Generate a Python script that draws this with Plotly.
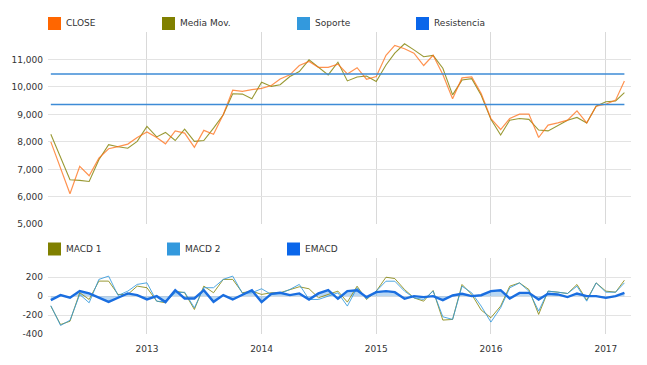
import plotly.graph_objects as go

# ---- data ----
dates = [
    "2012-03-01", "2012-04-01", "2012-05-01", "2012-06-01", "2012-07-01", "2012-08-01",
    "2012-09-01", "2012-10-01", "2012-11-01", "2012-12-01",
    "2013-01-01", "2013-02-01", "2013-03-01", "2013-04-01", "2013-05-01", "2013-06-01",
    "2013-07-01", "2013-08-01", "2013-09-01", "2013-10-01", "2013-11-01", "2013-12-01",
    "2014-01-01", "2014-02-01", "2014-03-01", "2014-04-01", "2014-05-01", "2014-06-01",
    "2014-07-01", "2014-08-01", "2014-09-01", "2014-10-01", "2014-11-01", "2014-12-01",
    "2015-01-01", "2015-02-01", "2015-03-01", "2015-04-01", "2015-05-01", "2015-06-01",
    "2015-07-01", "2015-08-01", "2015-09-01", "2015-10-01", "2015-11-01", "2015-12-01",
    "2016-01-01", "2016-02-01", "2016-03-01", "2016-04-01", "2016-05-01", "2016-06-01",
    "2016-07-01", "2016-08-01", "2016-09-01", "2016-10-01", "2016-11-01", "2016-12-01",
    "2017-01-01", "2017-02-01", "2017-03-01",
]

close = [
    8000, 7050, 6110, 7110, 6770, 7410, 7750, 7830, 7920, 8160,
    8360, 8160, 7930, 8400, 8320, 7800, 8420, 8280, 9000, 9880, 9840, 9900,
    9950, 10050, 10290, 10440, 10780, 10930, 10710, 10710, 10830, 10470, 10700, 10280,
    10380, 11150, 11510, 11390, 11230, 10780, 11150, 10450, 9570, 10330, 10370, 9760,
    8850, 8450, 8850, 9010, 9010, 8160, 8610, 8690, 8790, 9130, 8690, 9300,
    9370, 9520, 10220,
]

media_mov = [
    8280, 7450, 6620, 6600, 6560, 7350, 7900, 7820, 7770, 8020,
    8560, 8180, 8345, 8050, 8465, 8020, 8050, 8500, 8985, 9750, 9740, 9570,
    10170, 10020, 10080, 10380, 10560, 10985, 10710, 10440, 10900, 10220, 10360, 10400,
    10200, 10800, 11230, 11570, 11350, 11100, 11150, 10680, 9710, 10250, 10300, 9700,
    8820, 8250, 8790, 8850, 8820, 8430, 8400, 8610, 8790, 8890, 8690, 9300,
    9460, 9490, 9790,
]

soporte = 9360
resistencia = 10470

macd1 = [
    -106, -300, -265, 36, -35, 159, 159, 18, 18, 106,
    89, -53, -70, 53, 36, -141, 106, 36, 177, 177, 36, 53,
    18, 36, 36, 71, 99, 78, -17, 18, 53, -63, 105, -35,
    53, 200, 186, 70, -18, -53, 60, -253, -246, 123, 18, -147,
    -228, -105, 105, 140, 70, -193, 53, 42, 28, 123, -42, 140,
    53, 42, 168,
]

macd2 = [
    -100, -310, -255, 18, -70, 177, 212, 7, 53, 124,
    141, -53, -60, 36, 42, -123, 89, 89, 177, 212, 29, 36,
    78, 18, 29, 71, 124, -35, -35, 0, 35, -105, 88, -28,
    53, 158, 158, 53, -18, -35, 53, -218, -246, 105, 35, -105,
    -274, -123, 88, 140, 53, -158, 53, 42, 28, 105, -53, 140,
    42, 42, 140,
]

emacd = [
    -42, 11, -17, 53, 29, -17, -60, -17, 29, 11,
    -35, 0, -63, 63, -25, -25, 63, -60, 11, -35, 11, 63,
    -63, 25, 36, 11, 29, -35, 29, 63, -28, 53, 63, -10,
    42, 53, 42, -28, 0, -10, 0, -42, 7, 25, 0, 10,
    53, 63, -25, 35, 35, -35, 25, 18, -10, 28, 0, 0,
    -18, 0, 35,
]

top_ticks = [5000, 6000, 7000, 8000, 9000, 10000, 11000, 12000]
top_ticktext = ["5,000", "6,000", "7,000", "8,000", "9,000", "10,000", "11,000", ""]
bot_ticks = [-400, -200, 0, 200, 400]
bot_ticktext = ["-400", "-200", "0", "200", ""]

top_legend = [("CLOSE", "#ff6600"), ("Media Mov.", "#808000"),
              ("Soporte", "#3399dd"), ("Resistencia", "#0a66ea")]
bot_legend = [("MACD 1", "#808000"), ("MACD 2", "#3399dd"), ("EMACD", "#0a66ea")]

# ---- figure ----
W, H = 647, 365
ML, MR, MT, MB = 48, 16, 32, 31
FONT = "DejaVu Sans"
TXT = "#333333"
GRID = "#e3e3e3"

fig = go.Figure()

fig.add_trace(go.Scatter(x=dates, y=media_mov, mode="lines", name="Media Mov.",
                         line=dict(color="rgba(128,128,0,0.8)", width=1.1),
                         xaxis="x", yaxis="y"))
fig.add_trace(go.Scatter(x=dates, y=close, mode="lines", name="CLOSE",
                         line=dict(color="rgba(255,110,20,0.75)", width=1.2),
                         xaxis="x", yaxis="y"))
fig.add_trace(go.Scatter(x=[dates[0], dates[-1]], y=[soporte, soporte], mode="lines",
                         name="Soporte", line=dict(color="#3d8bd6", width=1.4),
                         xaxis="x", yaxis="y"))
fig.add_trace(go.Scatter(x=[dates[0], dates[-1]], y=[resistencia, resistencia], mode="lines",
                         name="Resistencia", line=dict(color="#3d8bd6", width=1.4),
                         xaxis="x", yaxis="y"))

fig.add_trace(go.Scatter(x=dates, y=emacd, mode="lines", name="EMACD fill",
                         fill="tozeroy", fillcolor="rgba(51,140,221,0.35)",
                         line=dict(color="rgba(0,0,0,0)", width=0),
                         xaxis="x2", yaxis="y2"))
fig.add_trace(go.Scatter(x=dates, y=macd1, mode="lines", name="MACD 1",
                         line=dict(color="rgba(128,128,0,0.8)", width=1),
                         xaxis="x2", yaxis="y2"))
fig.add_trace(go.Scatter(x=dates, y=macd2, mode="lines", name="MACD 2",
                         line=dict(color="rgba(51,153,221,0.85)", width=1),
                         xaxis="x2", yaxis="y2"))
fig.add_trace(go.Scatter(x=dates, y=emacd, mode="lines", name="EMACD",
                         line=dict(color="#1a6ee0", width=2.4),
                         xaxis="x2", yaxis="y2"))

plot_h = H - MT - MB
top_dom = [(H - MB - 224.3) / plot_h, 1.0]
bot_dom = [0.0, (H - MB - 258.3) / plot_h]
xr = ["2012-02-21", "2017-03-22"]

xcommon = dict(type="date", range=xr, dtick="M12", tick0="2013-01-01",
               showgrid=True, gridcolor="#d9d9d9", gridwidth=1, zeroline=False,
               showline=False, ticks="", tickformat="%Y",
               tickfont=dict(family=FONT, size=9, color=TXT))

fig.update_layout(
    width=W, height=H,
    margin=dict(l=ML, r=MR, t=MT, b=MB, autoexpand=False),
    paper_bgcolor="white", plot_bgcolor="white",
    showlegend=False,
    hovermode=False,
    font=dict(family=FONT, size=9, color=TXT),
    xaxis=dict(**xcommon, anchor="y", showticklabels=False, matches="x2"),
    xaxis2=dict(**xcommon, anchor="y2", showticklabels=True, ticklabelstandoff=8),
    yaxis=dict(domain=top_dom, range=[5000, 12000], tickvals=top_ticks,
               ticktext=top_ticktext, showgrid=True, gridcolor=GRID, zeroline=False,
               ticks="", showline=False, ticklabelstandoff=4,
               tickfont=dict(family=FONT, size=9, color=TXT)),
    yaxis2=dict(domain=bot_dom, range=[-400, 400], tickvals=bot_ticks,
                ticktext=bot_ticktext, showgrid=True, gridcolor=GRID, zeroline=False,
                ticks="", showline=False, ticklabelstandoff=4,
                tickfont=dict(family=FONT, size=9, color=TXT)),
)

# ---- custom legends (square swatch + label) ----
def px_to_paper_x(px):
    return (px - ML) / (W - ML - MR)

def px_to_paper_y(py):
    return (H - MB - py) / plot_h

shapes = []
annotations = []

def add_legend(items, xs_sq, y_center):
    for (label, color), xs in zip(items, xs_sq):
        shapes.append(dict(type="rect", xref="paper", yref="paper",
                           x0=px_to_paper_x(xs), x1=px_to_paper_x(xs + 13),
                           y0=px_to_paper_y(y_center + 6.5), y1=px_to_paper_y(y_center - 6.5),
                           fillcolor=color, line=dict(width=0), layer="above"))
        annotations.append(dict(text=label, xref="paper", yref="paper",
                                x=px_to_paper_x(xs + 16), y=px_to_paper_y(y_center),
                                xanchor="left", yanchor="middle", showarrow=False,
                                font=dict(family=FONT, size=9, color=TXT)))

add_legend(top_legend, [48, 162, 297, 416], 23.5)
add_legend(bot_legend, [48, 167, 287], 249)

fig.update_layout(shapes=shapes, annotations=annotations)

fig.write_html("out.html",
               config={"displayModeBar": False, "staticPlot": True},
               post_script="document.body.style.margin='0px';document.body.style.padding='0px';")
